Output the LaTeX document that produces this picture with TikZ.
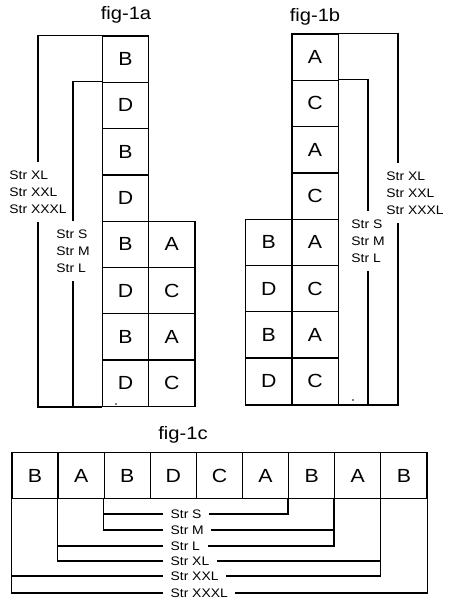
\documentclass[tikz,border=0pt]{standalone}
\usepackage{fontspec}
\setmainfont{Liberation Sans}[FakeStretch=1.12]
\usepackage{tikz}

\begin{document}
\begin{tikzpicture}[x=1pt,y=-1pt,line width=1.3pt,
  cell/.style={draw,minimum width=46.3pt,minimum height=46.3pt,inner sep=0pt,font=\fontsize{19}{21}\selectfont},
  strlbl/.style={align=left,inner xsep=2pt,inner ysep=8pt,font=\fontsize{12.4}{17}\selectfont},
  barlbl/.style={anchor=west,inner xsep=7pt,inner ysep=0pt,font=\fontsize{12.4}{14}\selectfont},
  figlbl/.style={font=\fontsize{18}{20}\selectfont}]
\useasboundingbox (0,0) rectangle (450,606);

% fig-1a
\node[figlbl] (ta) at (126,15) {fig-1a};
\foreach \l [count=\i] in {B,D,B,D,B,D,B,D}
  \node[cell] (ma\i) at (125.5,{36+46.3*(\i-0.5)}) {\l};
\foreach \l [count=\i from 5] in {A,C,A,C}
  \node[cell] (sa\i) at (171.8,{36+46.3*(\i-0.5)}) {\l};
\node[strlbl] (axl) at (38,192) {Str XL\\Str XXL\\Str XXXL};
\node[strlbl] (asml) at (73,251) {Str S\\Str M\\Str L};
\draw (ma1.north west) -| (axl.north);
\draw (axl.south) |- (ma8.south west);
\draw (ma2.north west) -| (asml.north);
\draw (asml.south) |- (ma8.south west);
\fill (116,404) circle (0.9pt);

% fig-1b
\node[figlbl] (tb) at (315,17) {fig-1b};
\foreach \l [count=\i] in {A,C,A,C,A,C,A,C}
  \node[cell] (mb\i) at (315,{34+46.3*(\i-0.5)}) {\l};
\foreach \l [count=\i from 5] in {B,D,B,D}
  \node[cell] (sb\i) at (268.7,{34+46.3*(\i-0.5)}) {\l};
\node[strlbl] (bxl) at (415,193) {Str XL\\Str XXL\\Str XXXL};
\node[strlbl] (bsml) at (368,241) {Str S\\Str M\\Str L};
\coordinate (bxlx) at (398,0);
\draw (mb1.north east) -| (bxl.north -| bxlx);
\draw (bxl.south -| bxlx) |- (sb8.south west);
\draw (mb2.north east) -| (bsml.north);
\draw (bsml.south) |- (mb8.south east);
\fill (353,400) circle (0.9pt);

% fig-1c
\node[figlbl] (tc) at (183,435) {fig-1c};
\foreach \l [count=\i] in {B,A,B,D,C,A,B,A,B}
  \node[cell,minimum width=46.1pt,minimum height=45.5pt] (c\i) at ({12+46.1*(\i-0.5)},475.5) {\l};
\foreach \s/\y/\a/\b in {S/514/c3.south west/c7.south west,
    M/530/c3.south west/c8.south west,
    L/546/c2.south west/c8.south west,
    XL/561/c2.south west/c9.south west,
    XXL/576/c1.south west/c9.south west,
    XXXL/593/c1.south west/c9.south east}{
  \node[barlbl] (cs\s) at (163,\y) {Str \s};
  \draw (\a) |- (cs\s.west);
  \draw (cs\s.east) -| (\b);
}

\end{tikzpicture}
\end{document}
